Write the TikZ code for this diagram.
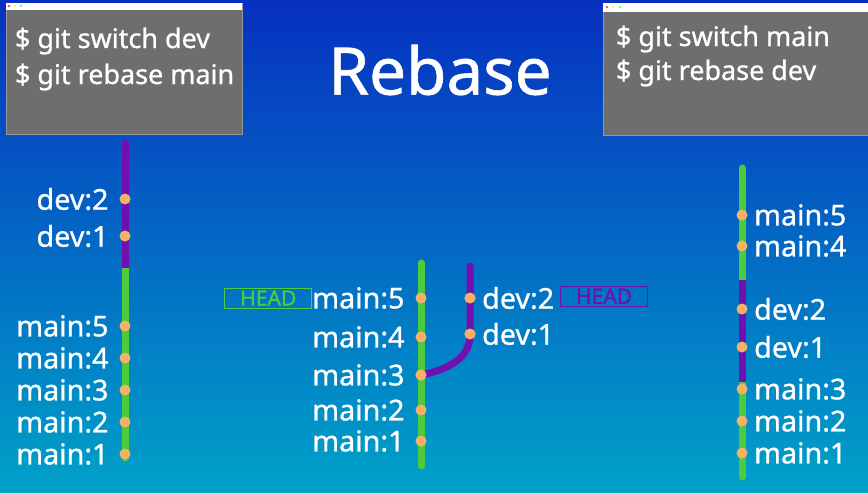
\documentclass[tikz,border=0pt]{standalone}
\usepackage{fontspec}
\setmainfont{Noto Sans}[FakeBold=0.9]
\usetikzlibrary{positioning}

\definecolor{bgtop}{RGB}{6,48,192}
\definecolor{bgbot}{RGB}{0,162,200}
\definecolor{termgray}{RGB}{110,110,110}
\definecolor{maingreen}{RGB}{76,204,60}
\definecolor{devpurple}{RGB}{112,16,176}
\definecolor{dotorange}{RGB}{246,178,100}

\begin{document}
\begin{tikzpicture}[
        x=0.03cm,y=-0.03cm,
        every node/.style={inner sep=0pt,outer sep=0pt},
        term/.style={draw=black!40,fill=termgray,line width=0.6pt},
        cmd/.style={anchor=base west,text=white,font=\fontsize{23}{26}\selectfont},
        lbl/.style={text=white,font=\fontsize{24.5}{28}\selectfont},
        dot/.style={circle,fill=dotorange,minimum size=3.3mm},
        mainline/.style={maingreen,line width=2.1mm,line cap=round},
        devline/.style={devpurple,line width=2.1mm,line cap=round},
        headbox/.style={draw,line width=0.8pt,minimum width=2.6cm,minimum height=0.6cm,font=\fontsize{18}{20}\selectfont}
    ]
        % background
        \shade[top color=bgtop,bottom color=bgbot] (0,0) rectangle (868,492);
        \useasboundingbox (0,0) rectangle (868,492);

        % terminal windows
        \draw[term] (6,3) rectangle (242,134);
        \fill[white] (6,3) rectangle (242,10);
        \fill[red!70] (9,6) circle (1.3);
        \fill[yellow!70] (15,6) circle (1.3);
        \fill[green!60] (21,6) circle (1.3);
        \node[cmd] (c1) at (15,48) {\$ git switch dev};
        \node[cmd] (c2) at (15,84) {\$ git rebase main};

        \draw[term] (603,3) rectangle (872,135);
        \fill[white] (603,3) rectangle (872,12);
        \fill[red!70] (607,7) circle (1.3);
        \fill[yellow!70] (613,7) circle (1.3);
        \fill[green!60] (620,7) circle (1.3);
        \node[cmd] (c3) at (616,46) {\$ git switch main};
        \node[cmd] (c4) at (616,80) {\$ git rebase dev};

        \node[text=white,font=\fontsize{56}{62}\selectfont] (title) at (440,70) {Rebase};

        % left: dev rebased onto main
        \coordinate (ltop) at (125,143);
        \coordinate (lmid) at (125,268);
        \coordinate (lbot) at (125,458);
        \draw[devline] (ltop) -- (lmid);
        \draw[mainline] (lmid) -- (lbot);
        \draw[devpurple,line width=2.1mm] (125,262) -- (lmid);
        \node[dot] (ld2) at (125,199) {};
        \node[dot] (ld1) at (125,236) {};
        \node[dot] (lm5) at (125,326) {};
        \node[dot] (lm4) at (125,358) {};
        \node[dot] (lm3) at (125,390) {};
        \node[dot] (lm2) at (125,422) {};
        \node[dot] (lm1) at (125,454) {};
        \node[lbl,left=3.3mm of ld2] {dev:2};
        \node[lbl,left=3.3mm of ld1] {dev:1};
        \node[lbl,left=3.3mm of lm5] {main:5};
        \node[lbl,left=3.3mm of lm4] {main:4};
        \node[lbl,left=3.3mm of lm3] {main:3};
        \node[lbl,left=3.3mm of lm2] {main:2};
        \node[lbl,left=3.3mm of lm1] {main:1};

        % middle: before
        \coordinate (mtop) at (421,263);
        \coordinate (mbot) at (421,466);
        \coordinate (dtop) at (470,266);
        \draw[mainline] (mtop) -- (mbot);
        \node[dot] (mm5) at (421,298) {};
        \node[dot] (mm4) at (421,337) {};
        \node[dot] (mm3) at (421,375) {};
        \node[dot] (mm2) at (421,410) {};
        \node[dot] (mm1) at (421,441) {};
        \node[dot] (md2) at (470,298) {};
        \node[dot] (md1) at (470,334) {};
        \draw[devline] (mm3.center) .. controls (455,368) and (470,355) .. (md1.center) -- (dtop);
        \node[dot] at (mm3) {};
        \node[dot] at (md1) {};
        \node[dot] at (md2) {};
        \node[lbl,left=3.3mm of mm5] (lm5txt) {main:5};
        \node[lbl,left=3.3mm of mm4] {main:4};
        \node[lbl,left=3.3mm of mm3] {main:3};
        \node[lbl,left=3.3mm of mm2] {main:2};
        \node[lbl,left=3.3mm of mm1] {main:1};
        \node[lbl,right=2mm of md2] (ld2txt) {dev:2};
        \node[lbl,right=2mm of md1] {dev:1};
        \node[headbox,draw=maingreen,text=maingreen,left=0.2mm of lm5txt] {HEAD};
        \node[headbox,draw=devpurple,text=devpurple,right=2mm of ld2txt,yshift=1.5pt] {HEAD};

        % right: main rebased onto dev
        \coordinate (rtop) at (742,168);
        \coordinate (rup) at (742,280);
        \coordinate (rlow) at (742,382);
        \coordinate (rbot) at (742,477);
        \draw[mainline] (rtop) -- (rup);
        \draw[mainline] (rlow) -- (rbot);
        \draw[devpurple,line width=2.1mm] (rup) -- (rlow);
        \node[dot] (rm5) at (742,215) {};
        \node[dot] (rm4) at (742,246) {};
        \node[dot] (rd2) at (742,309) {};
        \node[dot] (rd1) at (742,347) {};
        \node[dot] (rm3) at (742,389) {};
        \node[dot] (rm2) at (742,421) {};
        \node[dot] (rm1) at (742,453) {};
        \node[lbl,right=2mm of rm5] {main:5};
        \node[lbl,right=2mm of rm4] {main:4};
        \node[lbl,right=2mm of rd2] {dev:2};
        \node[lbl,right=2mm of rd1] {dev:1};
        \node[lbl,right=2mm of rm3] {main:3};
        \node[lbl,right=2mm of rm2] {main:2};
        \node[lbl,right=2mm of rm1] {main:1};
    \end{tikzpicture}
\end{document}
